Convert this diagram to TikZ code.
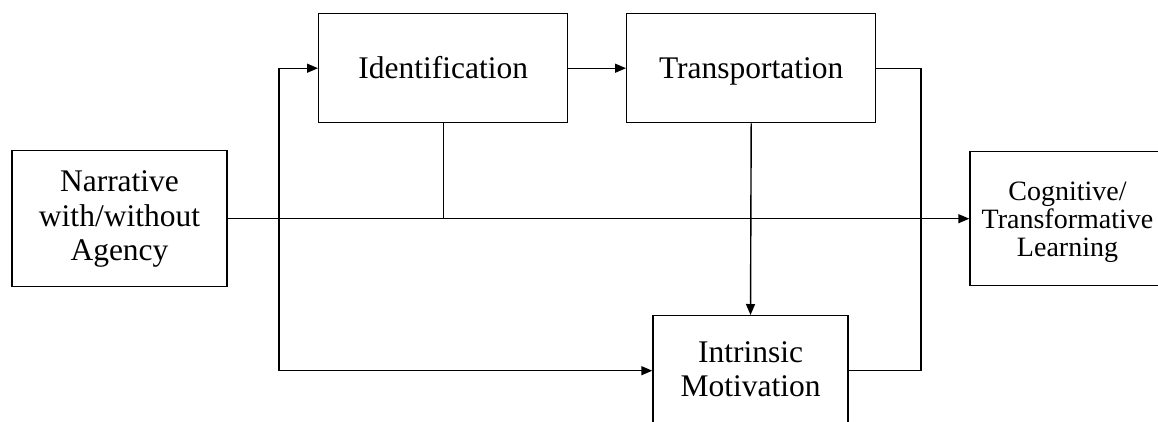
\documentclass[tikz,border=0pt]{standalone}
\usepackage{fontspec}
\setmainfont{Liberation Serif}
\usetikzlibrary{arrows.meta}
\tikzset{
  box/.style={draw, line width=1.4pt, inner sep=0pt, align=center,
              font=\fontsize{31.5}{34.5}\selectfont},
  topbox/.style={box, minimum width=249pt, text height=65pt, text depth=44pt},
  link/.style={line width=1.4pt},
  arrow/.style={link, -{Triangle[length=11pt,width=9pt]}}
}
\begin{document}
\begin{tikzpicture}[x=1pt,y=-1pt]
  \useasboundingbox (0,0) rectangle (1158,421);
  \clip (0,0) rectangle (1158,421);
  \fill[white] (0,0) rectangle (1158,421);

  % blocks (text height/depth place the last baseline inside each frame)
  \node[box, minimum width=215pt, text height=110pt, text depth=26pt,
        anchor=north] (narr) at (119.5,150) {Narrative\\with/without\\Agency};
  \node[topbox, anchor=north west] (ident) at (318,13) {Identification};
  \node[topbox, anchor=north west] (trans) at (626,13) {Transportation};
  \node[box, minimum width=195pt, text height=81pt, text depth=29pt,
        anchor=north] (intr) at (750.5,315) {Intrinsic\\Motivation};
  \node[box, minimum width=195pt, text height=105pt, text depth=29pt,
        font=\fontsize{28}{28}\selectfont, anchor=north] (cog) at (1067.5,151)
        {Cognitive/\\Transformative\\Learning};

  % routing points
  \coordinate (split) at (279,219);
  \coordinate (loop) at (921,69);

  % main line to learning, joined by identification
  \draw[arrow] (narr.east) -- (cog.west);
  \draw[link] (ident.south) -- (ident.south |- narr.east);

  % left branch feeding identification and motivation
  \draw[arrow] (split |- ident.west) -- (ident.west);
  \draw[arrow] (split |- ident.west) -- (split |- intr.west) -- (intr.west);

  % identification -> transportation -> motivation
  \draw[arrow] (ident.east) -- (trans.west);
  \draw[arrow] (trans.south) -- (intr.north);

  % loop from transportation round to motivation
  \draw[link] (trans.east) -- (trans.east -| loop) -- (loop |- intr.east) -- (intr.east);
\end{tikzpicture}
\end{document}
